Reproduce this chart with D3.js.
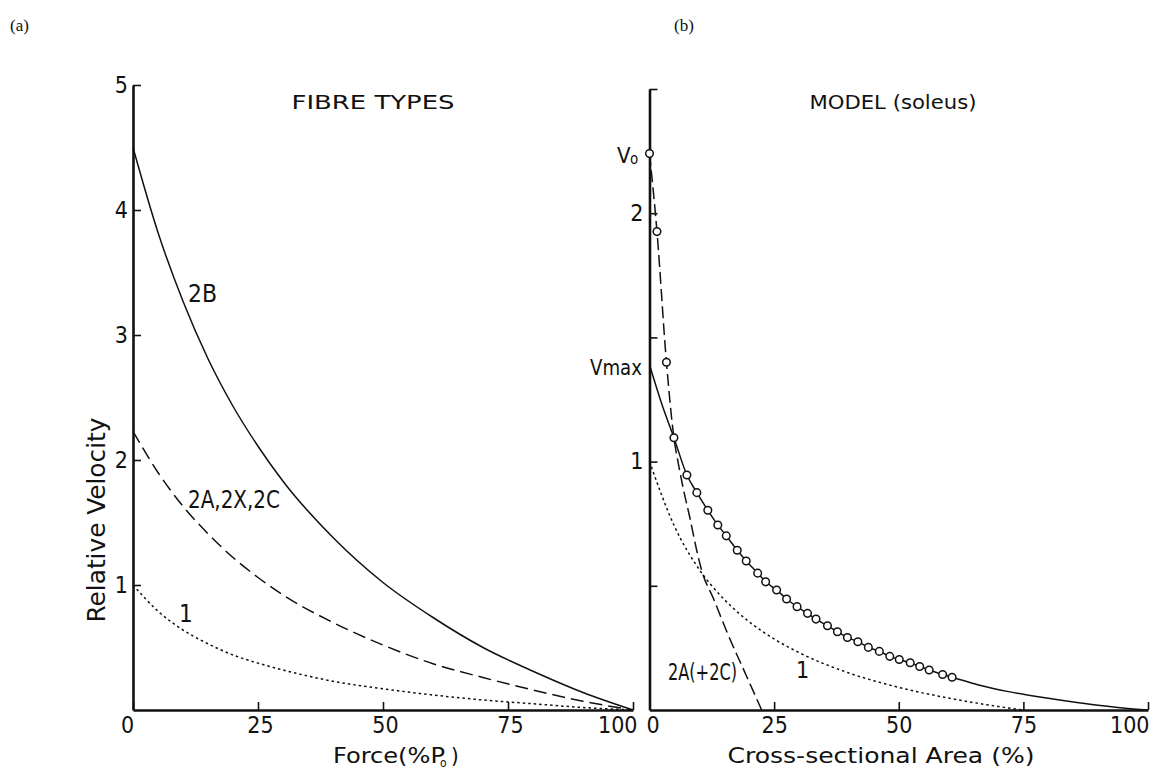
<!DOCTYPE html>
<html>
<head>
<meta charset="utf-8">
<script src="https://cdn.jsdelivr.net/npm/d3@7"></script>
<style>
  html, body { margin: 0; padding: 0; background: #fff; }
  svg { display: block; }
  text { font-family: "Liberation Sans Narrow", "DejaVu Sans Condensed", Roboto, sans-serif; fill: #111; }
  .panel-tag { font-family: "Liberation Serif", "DejaVu Serif", serif; }
</style>
</head>
<body>
<svg id="chart" width="1153" height="769"></svg>
<script>
// ---- Panel (a): force–velocity relations of the fibre types ----
const forcePct   = [0, 5, 10, 15, 20, 25, 30, 40, 50, 60, 70, 80, 90, 100];
const vel2B      = [4.5, 3.82, 3.27, 2.81, 2.43, 2.11, 1.83, 1.38, 1.02, 0.74, 0.50, 0.31, 0.14, 0];
const vel2A2X2C  = [2.23, 1.90, 1.63, 1.41, 1.22, 1.06, 0.92, 0.70, 0.52, 0.37, 0.26, 0.16, 0.07, 0];
const velType1   = [1.0, 0.79, 0.64, 0.53, 0.44, 0.375, 0.32, 0.23, 0.17, 0.12, 0.08, 0.05, 0.02, 0];
const forceTicks = [0, 25, 50, 75, 100];
const velTicksA  = [1, 2, 3, 4, 5];

// ---- Panel (b): soleus model, velocity against cross-sectional area ----
const areaT1     = [0, 5, 10, 15, 20, 25, 30, 40, 50, 60, 70, 75];
const velT1      = [1.0, 0.74, 0.565, 0.445, 0.355, 0.286, 0.231, 0.149, 0.091, 0.048, 0.014, 0];
const area2A     = [0, 1.5, 3.4, 4.9, 5.9, 6.9, 8.1, 9.5, 10.5, 12.8, 15.7, 19.5, 22.5];
const vel2A      = [2.24, 1.926, 1.40, 1.096, 0.98, 0.88, 0.774, 0.64, 0.56, 0.45, 0.306, 0.135, 0];
const area2ADots = [0, 1.5, 3.4];
const vel2ADots  = [2.24, 1.926, 1.40];
const areaMixDots = [4.9, 7.5, 9.5, 11.7, 13.7, 15.4, 17.6, 19.4, 21.7, 23.3, 25.5, 27.5, 29.6, 31.7,
                     33.4, 35.7, 37.7, 39.7, 41.8, 43.9, 46.1, 48.2, 50.1, 52.3, 54.2, 56.1, 58.8, 60.7];
const velMixDots  = [1.096, 0.946, 0.875, 0.804, 0.745, 0.701, 0.643, 0.600, 0.551, 0.516, 0.483, 0.447, 0.416, 0.389,
                     0.366, 0.339, 0.315, 0.292, 0.275, 0.252, 0.236, 0.216, 0.203, 0.190, 0.175, 0.161, 0.143, 0.132];
const areaMixHead = [0, 2.5];
const velMixHead  = [1.39, 1.23];
const areaMixTail = [66, 72, 78, 84, 90, 95, 100];
const velMixTail  = [0.101, 0.074, 0.053, 0.035, 0.019, 0.008, 0];
const areaTicks  = [0, 25, 50, 75, 100];
const velTicksB  = [0.5, 1, 1.5, 2, 2.5];
const velLabelsB = [1, 2];

const svg = d3.select("#chart");
const zip = (xs, ys) => xs.map((x, i) => [x, ys[i]]);

function styleAxis(g) {
  g.select(".domain").attr("stroke", "#111").attr("stroke-width", 2.6);
  g.selectAll(".tick line").attr("stroke", "#111").attr("stroke-width", 1.6);
  g.selectAll(".tick text").attr("font-size", 23).attr("fill", "#111");
}

// ===== Panel (a) =====
const xA = d3.scaleLinear().domain([0, 100]).range([133, 633]);
const yA = d3.scaleLinear().domain([0, 5]).range([710, 85]);

svg.append("g")
  .attr("transform", `translate(0,${yA(0)})`)
  .call(d3.axisBottom(xA).tickValues(forceTicks).tickSizeInner(-8).tickSizeOuter(0).tickPadding(7))
  .call(styleAxis)
  .call(g => g.selectAll(".tick text")
    .attr("text-anchor", d => d === 100 ? "end" : "middle")
    .attr("dx", d => d === 100 ? 4 : (d === 0 ? -6 : 2)));

svg.append("g")
  .attr("transform", `translate(${xA(0)},0)`)
  .call(d3.axisLeft(yA).tickValues(velTicksA).tickSizeInner(-8).tickSizeOuter(0).tickPadding(5)
    .tickFormat(d3.format("d")))
  .call(styleAxis);

const lineA = d3.line().x(d => xA(d[0])).y(d => yA(d[1])).curve(d3.curveMonotoneX);

svg.append("path").datum(zip(forcePct, vel2B))
  .attr("d", lineA).attr("fill", "none").attr("stroke", "#111").attr("stroke-width", 1.5);
svg.append("path").datum(zip(forcePct, vel2A2X2C))
  .attr("d", lineA).attr("fill", "none").attr("stroke", "#111").attr("stroke-width", 1.5)
  .attr("stroke-dasharray", "13,6");
svg.append("path").datum(zip(forcePct, velType1))
  .attr("d", lineA).attr("fill", "none").attr("stroke", "#111").attr("stroke-width", 1.5)
  .attr("stroke-dasharray", "2.5,3");

svg.append("text").attr("x", 188).attr("y", 302).attr("font-size", 24)
  .attr("textLength", 29).attr("lengthAdjust", "spacingAndGlyphs").text("2B");
svg.append("text").attr("x", 188).attr("y", 508).attr("font-size", 24)
  .attr("textLength", 92).attr("lengthAdjust", "spacingAndGlyphs").text("2A,2X,2C");
svg.append("text").attr("x", 179).attr("y", 622).attr("font-size", 24).text("1");

svg.append("text").attr("x", 373).attr("y", 109).attr("font-size", 19).attr("text-anchor", "middle")
  .attr("textLength", 163).attr("lengthAdjust", "spacingAndGlyphs").text("FIBRE TYPES");

svg.append("text").attr("transform", "translate(105,520) rotate(-90)")
  .attr("font-size", 24).attr("text-anchor", "middle")
  .attr("textLength", 205).attr("lengthAdjust", "spacingAndGlyphs").text("Relative Velocity");

svg.append("text").attr("x", 333).attr("y", 763).attr("font-size", 22)
  .attr("textLength", 112).attr("lengthAdjust", "spacingAndGlyphs").text("Force(%P");
svg.append("text").attr("x", 440).attr("y", 767).attr("font-size", 12).text("o");
svg.append("text").attr("x", 451).attr("y", 763).attr("font-size", 22).text(")");

svg.append("text").attr("class", "panel-tag").attr("x", 10).attr("y", 31).attr("font-size", 17).text("(a)");

// ===== Panel (b) =====
const xB = d3.scaleLinear().domain([0, 100]).range([649.5, 1148]);
const yB = d3.scaleLinear().domain([0, 2.5]).range([710, 89]);

svg.append("g")
  .attr("transform", `translate(0,${yB(0)})`)
  .call(d3.axisBottom(xB).tickValues(areaTicks).tickSizeInner(-8).tickSizeOuter(0).tickPadding(7))
  .call(styleAxis)
  .call(g => g.selectAll(".tick text")
    .attr("text-anchor", d => d === 100 ? "end" : "middle")
    .attr("dx", d => d === 100 ? 1 : (d === 0 ? 3 : 0)));

svg.append("g")
  .attr("transform", `translate(${xB(0)},0)`)
  .call(d3.axisLeft(yB).tickValues(velTicksB).tickSizeInner(-8).tickSizeOuter(0).tickPadding(6)
    .tickFormat(d => velLabelsB.includes(d) ? d3.format("d")(d) : ""))
  .call(styleAxis);

const lineB = d3.line().x(d => xB(d[0])).y(d => yB(d[1])).curve(d3.curveMonotoneX);

const mixLine = zip(areaMixHead, velMixHead)
  .concat(zip(areaMixDots, velMixDots))
  .concat(zip(areaMixTail, velMixTail));

svg.append("path").datum(zip(areaT1, velT1))
  .attr("d", lineB).attr("fill", "none").attr("stroke", "#111").attr("stroke-width", 1.5)
  .attr("stroke-dasharray", "2.5,3");
svg.append("path").datum(zip(area2A, vel2A))
  .attr("d", lineB).attr("fill", "none").attr("stroke", "#111").attr("stroke-width", 1.5)
  .attr("stroke-dasharray", "12,5");
svg.append("path").datum(mixLine)
  .attr("d", lineB).attr("fill", "none").attr("stroke", "#111").attr("stroke-width", 1.5);

svg.append("g").selectAll("circle")
  .data(zip(area2ADots, vel2ADots).concat(zip(areaMixDots, velMixDots)))
  .join("circle")
  .attr("cx", d => xB(d[0])).attr("cy", d => yB(d[1])).attr("r", 3.8)
  .attr("fill", "#fff").attr("stroke", "#111").attr("stroke-width", 1.5);

svg.append("text").attr("x", 617).attr("y", 163).attr("font-size", 22).text("V");
svg.append("text").attr("x", 630).attr("y", 164).attr("font-size", 15).text("o");
svg.append("text").attr("x", 590).attr("y", 375).attr("font-size", 21)
  .attr("textLength", 52).attr("lengthAdjust", "spacingAndGlyphs").text("Vmax");

svg.append("text").attr("x", 668).attr("y", 680).attr("font-size", 23)
  .attr("textLength", 69).attr("lengthAdjust", "spacingAndGlyphs").text("2A(+2C)");
svg.append("text").attr("x", 796).attr("y", 678).attr("font-size", 23).text("1");

svg.append("text").attr("x", 893).attr("y", 109).attr("font-size", 19).attr("text-anchor", "middle")
  .attr("textLength", 167).attr("lengthAdjust", "spacingAndGlyphs").text("MODEL (soleus)");

svg.append("text").attr("x", 881).attr("y", 763).attr("font-size", 22).attr("text-anchor", "middle")
  .attr("textLength", 307).attr("lengthAdjust", "spacingAndGlyphs").text("Cross-sectional Area (%)");

svg.append("text").attr("class", "panel-tag").attr("x", 674).attr("y", 31).attr("font-size", 17).text("(b)");
</script>
</body>
</html>
